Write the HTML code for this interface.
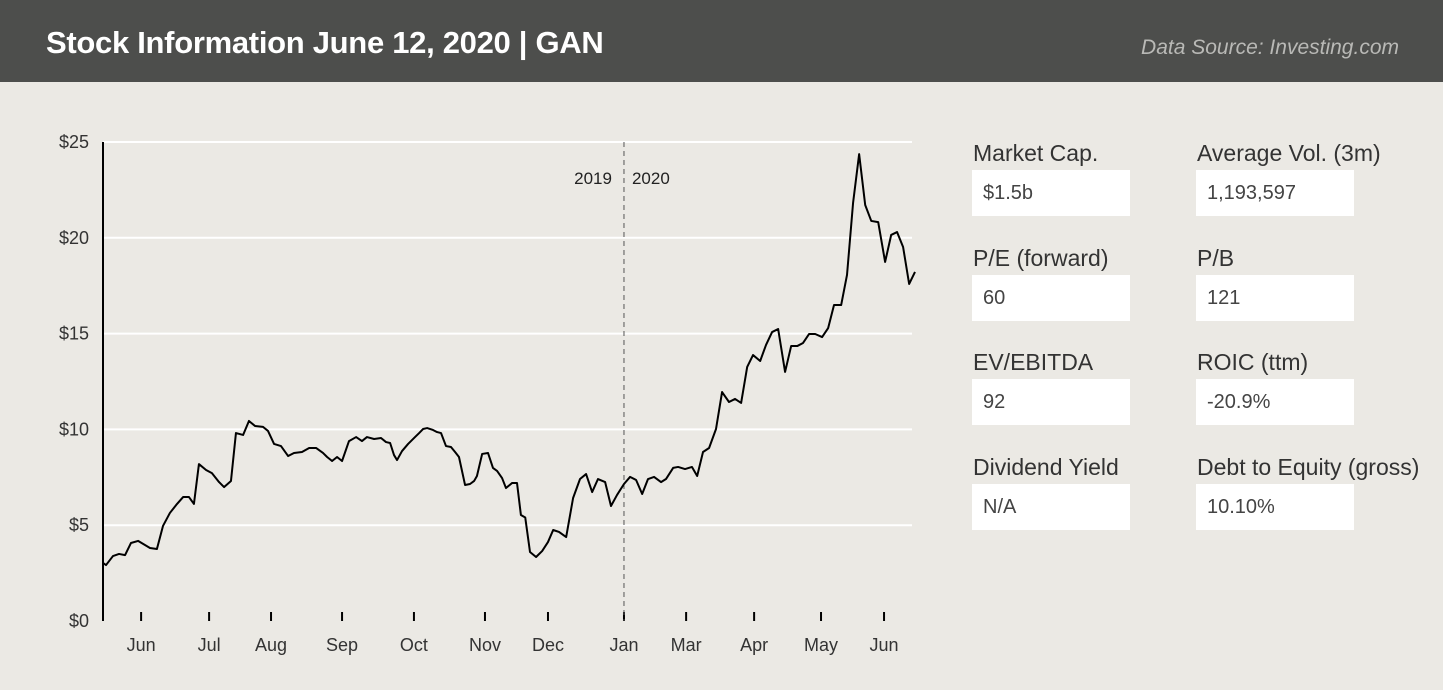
<!DOCTYPE html>
<html><head><meta charset="utf-8"><style>
body{margin:0;width:1443px;height:697px;background:#ebe9e4;font-family:"Liberation Sans",sans-serif;overflow:hidden;position:relative}
.hdr{position:absolute;left:0;top:0;width:1443px;height:82px;background:#4d4e4c}
.title{position:absolute;left:46px;top:25px;color:#fff;font-size:31px;font-weight:bold;letter-spacing:-0.3px}
.src{position:absolute;right:44px;top:36px;color:#b9b9b6;font-size:21px;font-style:italic}
.lbl{position:absolute;font-size:23px;color:#333}
.box{position:absolute;width:158px;height:46px;background:#fff;font-size:20px;color:#444;line-height:46px;box-sizing:border-box;padding-left:11px}
.bottom{position:absolute;left:0;top:690px;width:1443px;height:7px;background:#fff}
</style></head><body>
<div class="hdr">
<div class="title">Stock Information June 12, 2020 | GAN</div>
<div class="src">Data Source: Investing.com</div></div>
<svg id="ch" width="930" height="680" style="position:absolute;left:0;top:0"></svg>
<div class="lbl" style="left:973px;top:140px">Market Cap.</div>
<div class="box" style="left:972px;top:170px">$1.5b</div>
<div class="lbl" style="left:1197px;top:140px">Average Vol. (3m)</div>
<div class="box" style="left:1196px;top:170px">1,193,597</div>
<div class="lbl" style="left:973px;top:245px">P/E (forward)</div>
<div class="box" style="left:972px;top:275px">60</div>
<div class="lbl" style="left:1197px;top:245px">P/B</div>
<div class="box" style="left:1196px;top:275px">121</div>
<div class="lbl" style="left:973px;top:349px">EV/EBITDA</div>
<div class="box" style="left:972px;top:379px">92</div>
<div class="lbl" style="left:1197px;top:349px">ROIC (ttm)</div>
<div class="box" style="left:1196px;top:379px">-20.9%</div>
<div class="lbl" style="left:973px;top:454px">Dividend Yield</div>
<div class="box" style="left:972px;top:484px">N/A</div>
<div class="lbl" style="left:1197px;top:454px">Debt to Equity (gross)</div>
<div class="box" style="left:1196px;top:484px">10.10%</div>
<div class="bottom"></div>
<script>
const days=[0,1.4,4.6,7.4,10.2,12.9,16.2,21.7,24.9,27.7,30.9,34.2,37,39.7,42,44.3,47.6,50.3,53.6,55.9,59.1,61.4,64.7,67.4,70.2,73.9,76.2,79,82.2,85.5,88.2,91.9,95.2,98.4,101.6,103.5,105.8,108.1,110.4,113.6,116.9,119.6,121.9,125.2,128.4,130.7,132.6,134.4,135.8,138.1,140.9,144.1,146,147.8,149.7,152.4,154.3,156.1,158.4,160.7,162.6,164.4,167.2,169.5,171.4,172.7,175.1,177.8,180.1,182,184.3,186.1,188.9,191.2,193,195,197.2,200,202.8,205.5,207.9,210.6,213.9,217.1,220.3,223.1,225.9,228.6,231.9,234.6,237.4,240.6,243.4,246.2,249,251.7,254.5,257.7,260,263.3,265.6,268.8,272,274.4,277.1,279.9,283.1,285.9,289.1,291.9,294.7,297.5,300.2,303.5,306.2,309,311.8,315,317.8,320.6,323.3,326.1,328.9,332.1,334.9,337.6,340.9,343.6,346.4,349.2,352,354.8,358,361.2,364,366.7,369.5,372.3,375];
const prices=[3.03,2.92,3.39,3.5,3.44,4.07,4.18,3.81,3.76,4.96,5.64,6.11,6.47,6.47,6.11,8.19,7.88,7.72,7.25,6.99,7.31,9.81,9.71,10.44,10.18,10.13,9.92,9.24,9.13,8.61,8.77,8.82,9.03,9.03,8.77,8.56,8.35,8.56,8.35,9.39,9.6,9.39,9.6,9.5,9.55,9.34,9.29,8.66,8.4,8.87,9.24,9.6,9.81,10.02,10.07,9.97,9.86,9.81,9.13,9.08,8.82,8.56,7.1,7.15,7.31,7.57,8.72,8.77,7.99,7.83,7.46,6.94,7.2,7.2,5.53,5.4,3.6,3.34,3.65,4.12,4.75,4.65,4.38,6.42,7.41,7.67,6.73,7.41,7.25,6,6.58,7.15,7.52,7.36,6.63,7.41,7.52,7.25,7.41,7.99,8.04,7.93,8.04,7.57,8.82,9.03,10.02,11.95,11.43,11.59,11.38,13.26,13.88,13.57,14.41,15.08,15.24,13,14.35,14.35,14.51,14.98,14.98,14.82,15.29,16.49,16.49,18.06,21.82,24.37,21.71,20.88,20.82,18.74,20.15,20.3,19.52,17.59,18.22];
const yTicks=[0,5,10,15,20,25];
const yTickLabels=["$0","$5","$10","$15","$20","$25"];
const monthDays=[17.6,49,77.6,110.4,143.6,176.4,205.5,240.6,269.3,300.7,331.6,360.7];
const monthLabels=["Jun","Jul","Aug","Sep","Oct","Nov","Dec","Jan","Mar","Apr","May","Jun"];
const yearSplitDay=240.6;
const NS="http://www.w3.org/2000/svg",svg=document.getElementById('ch');
const X0=103,X1=915,Y0=621,Y1=142;
const xs=d=>X0+d/375*(X1-X0), ys=v=>Y0-v/25*(Y0-Y1);
function mk(t,a){const e=document.createElementNS(NS,t);for(const k in a)e.setAttribute(k,a[k]);svg.appendChild(e);return e;}
yTicks.forEach((v,i)=>{
 if(v>0){const g=mk('line',{x1:X0,x2:912,y1:ys(v),y2:ys(v),stroke:'#fff','stroke-width':2});
 
 }
 const t=mk('text',{x:89,y:ys(v)+6,'text-anchor':'end','font-size':18,fill:'#333','font-family':'Liberation Sans'});t.textContent=yTickLabels[i];
 
 
});
const ax=mk('line',{x1:X0,x2:X0,y1:Y1,y2:Y0,stroke:'#000','stroke-width':2});


monthDays.forEach((d,i)=>{
 const tk=mk('line',{x1:xs(d),x2:xs(d),y1:612,y2:621,stroke:'#000','stroke-width':2});
 
 
 const t=mk('text',{x:xs(d),y:651,'text-anchor':'middle','font-size':18,fill:'#333','font-family':'Liberation Sans'});t.textContent=monthLabels[i];
 
 
});
const dl=mk('line',{x1:xs(yearSplitDay),x2:xs(yearSplitDay),y1:142,y2:621,stroke:'#555','stroke-width':1,'stroke-dasharray':'5,4'});


const t1=mk('text',{x:xs(yearSplitDay)-12,y:184,'text-anchor':'end','font-size':17,fill:'#222','font-family':'Liberation Sans'});t1.textContent='2019';


const t2=mk('text',{x:xs(yearSplitDay)+8,y:184,'font-size':17,fill:'#222','font-family':'Liberation Sans'});t2.textContent='2020';


const p=mk('polyline',{points:days.map((d,i)=>xs(d)+','+ys(prices[i])).join(' '),fill:'none',stroke:'#000','stroke-width':2,'stroke-linejoin':'round'});


</script>
</body></html>
